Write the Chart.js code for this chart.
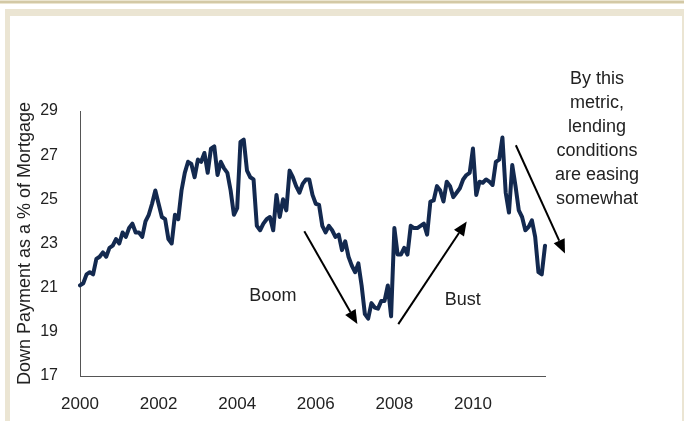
<!DOCTYPE html>
<html>
<head>
<meta charset="utf-8">
<title>Down Payment as a % of Mortgage</title>
<script src="https://cdn.jsdelivr.net/npm/chart.js@4.4.1/dist/chart.umd.min.js"></script>
<style>
  html, body { margin: 0; padding: 0; background: #fff; }
  body { width: 684px; height: 421px; position: relative; overflow: hidden; }
  .topbar { position: absolute; left: 0; top: 0; width: 684px; height: 4px; background: #ebe5d0; }
  .topbar::after { content: ''; position: absolute; left: 0; top: 1px; width: 684px; height: 2px; background: #d3c9a6; }
  .frame { position: absolute; left: 5px; top: 9px; width: 679px; height: 412px; background: #ebe5d3; }
  .panel { position: absolute; left: 10px; top: 16px; width: 672px; height: 405px; background: #fff; }
  #wrap { position: absolute; left: 0; top: 0; width: 684px; height: 421px; }
</style>
</head>
<body>
<div class="topbar"></div>
<div class="frame"></div>
<div class="panel"></div>
<div id="wrap"><canvas id="myChart"></canvas></div>
<script>
// monthly series, Jan 2000 - Nov 2011
const months = [];
for (let y = 2000; y <= 2011; y++) {
    for (let m = 1; m <= 12; m++) {
        months.push(y + '-' + String(m).padStart(2, '0'));
    }
}
months.length = 143;

const yearTicks = ['2000', '2002', '2004', '2006', '2008', '2010'];

const downPayment = [
    21.1, 21.2, 21.6, 21.7, 21.6, 22.3, 22.4, 22.6, 22.4, 22.8, 22.9, 23.2,
    23.0, 23.5, 23.3, 23.7, 23.9, 23.5, 23.5, 23.3, 24.0, 24.3, 24.8, 25.4,
    24.8, 24.2, 24.1, 23.2, 23.0, 24.3, 24.1, 25.4, 26.2, 26.7, 26.6, 26.0,
    26.8, 26.7, 27.1, 26.2, 27.3, 27.4, 26.1, 26.7, 26.4, 26.2, 25.4, 24.3,
    24.6, 27.6, 27.7, 26.3, 26.0, 25.9, 23.8, 23.6, 23.9, 24.1, 24.2, 23.6,
    25.2, 24.2, 25.0, 24.5, 26.3, 26.0, 25.6, 25.3, 25.7, 25.9, 25.9, 25.2,
    24.8, 24.75, 23.8, 23.5, 23.8, 23.6, 23.3, 23.4, 22.7, 23.1, 22.4, 22.0,
    21.7, 22.1, 21.1, 19.8, 19.6, 20.3, 20.1, 20.05, 20.4, 20.4, 21.1, 19.7,
    23.7, 22.5, 22.5, 22.8, 22.5, 23.8, 23.7, 23.7, 23.8, 23.9, 23.4, 24.9,
    24.95, 25.6, 25.4, 24.9, 25.8, 25.6, 25.1, 25.3, 25.5, 25.9, 26.1, 26.2,
    27.3, 25.2, 25.8, 25.75, 25.9, 25.8, 25.65, 26.7, 26.8, 27.8, 25.3, 24.4,
    26.55, 25.6, 24.5, 24.2, 23.6, 23.75, 24.05, 23.3, 21.7, 21.6, 22.9
];

// notes placed in data units: [month index, value]
const arrows = [
    { from: [68.5, 23.55], to: [84.7, 19.35] },
    { from: [97.2, 19.35], to: [118.1, 24.0] },
    { from: [133.1, 27.45], to: [148.1, 22.55] }
];
const notes = [
    { at: [58.9, 20.6], lines: ['Boom'] },
    { at: [116.9, 20.45], lines: ['Bust'] },
    { at: [157.9, 30.45], lines: ['By this', 'metric,', 'lending', 'conditions', 'are easing', 'somewhat'] }
];

const lineColor = '#13294f';
const textColor = '#222';

Chart.defaults.font.family = '"Liberation Sans", Arial, sans-serif';
Chart.defaults.color = textColor;

const notesPlugin = {
    id: 'notes',
    afterDraw(chart) {
        const {ctx, scales: {x, y}} = chart;
        ctx.save();
        ctx.strokeStyle = '#000';
        ctx.fillStyle = '#000';
        ctx.lineWidth = 2;
        arrows.forEach(a => {
            const x1 = x.getPixelForValue(a.from[0]), y1 = y.getPixelForValue(a.from[1]);
            const x2 = x.getPixelForValue(a.to[0]), y2 = y.getPixelForValue(a.to[1]);
            const ang = Math.atan2(y2 - y1, x2 - x1);
            const headLen = 14, headW = 6;
            const bx = x2 - headLen * Math.cos(ang), by = y2 - headLen * Math.sin(ang);
            ctx.beginPath();
            ctx.moveTo(x1, y1);
            ctx.lineTo(bx, by);
            ctx.stroke();
            ctx.beginPath();
            ctx.moveTo(x2, y2);
            ctx.lineTo(bx + headW * Math.sin(ang), by - headW * Math.cos(ang));
            ctx.lineTo(bx - headW * Math.sin(ang), by + headW * Math.cos(ang));
            ctx.closePath();
            ctx.fill();
        });
        ctx.fillStyle = textColor;
        ctx.font = '18px "Liberation Sans", Arial, sans-serif';
        ctx.textAlign = 'center';
        ctx.textBaseline = 'middle';
        notes.forEach(n => {
            const px = x.getPixelForValue(n.at[0]);
            const py = y.getPixelForValue(n.at[1]);
            n.lines.forEach((t, i) => ctx.fillText(t, px, py + i * 24));
        });
        ctx.restore();
    }
};

const ctx = document.getElementById('myChart').getContext('2d');

const myChart = new Chart(ctx, {
    type: 'line',
    data: {
        labels: months,
        datasets: [{
            label: 'Down Payment',
            data: downPayment,
            borderColor: lineColor,
            borderWidth: 4,
            borderJoinStyle: 'round',
            borderCapStyle: 'round',
            pointRadius: 0,
            tension: 0,
            fill: false,
        }],
    },
    options: {
        responsive: true,
        maintainAspectRatio: false,
        animation: false,
        layout: {
            padding: { top: 111, right: 139, left: 0, bottom: 0 },
        },
        scales: {
            x: {
                offset: false,
                grid: { display: false, drawTicks: false },
                border: { color: '#555', width: 1 },
                ticks: {
                    autoSkip: false,
                    maxRotation: 0,
                    minRotation: 0,
                    padding: 18,
                    font: { size: 17 },
                    color: textColor,
                    callback: (val, i) => {
                        const lab = months[i];
                        const yr = lab.slice(0, 4);
                        return lab.endsWith('-01') && yearTicks.includes(yr) ? yr : '';
                    },
                },
                afterFit: axis => { axis.height = 45; },
            },
            y: {
                min: 17,
                max: 29,
                grid: { display: false, drawTicks: false },
                border: { color: '#555', width: 1 },
                ticks: {
                    stepSize: 2,
                    padding: 22,
                    font: { size: 16 },
                    color: textColor,
                },
                title: {
                    display: true,
                    text: 'Down Payment as a % of Mortgage',
                    font: { size: 18 },
                    color: textColor,
                    padding: { top: 14, bottom: 0 },
                },
                afterFit: axis => { axis.width = 80; },
            },
        },
        plugins: {
            legend: { display: false },
            tooltip: { enabled: false },
        },
    },
    plugins: [notesPlugin],
});
</script>
</body>
</html>
